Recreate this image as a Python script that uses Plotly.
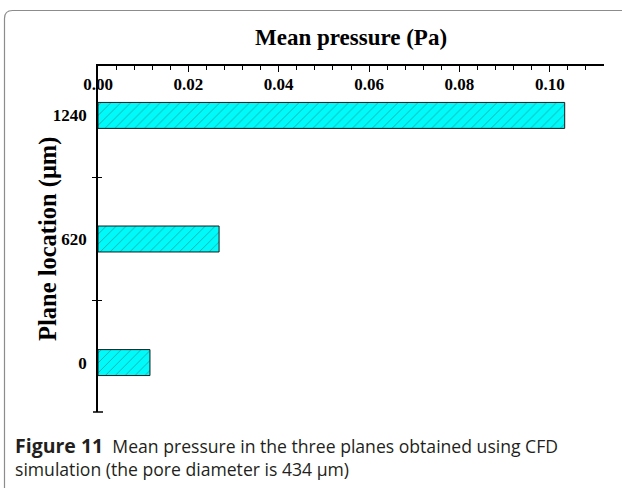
import plotly.graph_objects as go

# Mean pressure at each plane location
locations = ["0", "620", "1240"]
mean_pressure = [0.0115, 0.0268, 0.1033]

x_ticks = [0.00, 0.02, 0.04, 0.06, 0.08, 0.10]
x_tick_labels = ["0.00", "0.02", "0.04", "0.06", "0.08", "0.10"]

W, H = 622, 488
ML, MR, MT, MB = 98, 18, 66, 76
PW, PH = W - ML - MR, H - MT - MB

def px(x):
    return (x - ML) / PW

def py(y):
    return (H - MB - y) / PH

serif = "Liberation Serif"
X_RANGE = [0, 0.112]
Y_RANGE = [-0.4, 2.4]
tick_font = dict(family=serif, size=17, color="black", weight="bold")

fig = go.Figure()
fig.add_trace(go.Bar(
    x=mean_pressure,
    y=list(range(len(locations))),
    orientation="h",
    width=0.21,
    marker=dict(
        color="#00FAFA",
        line=dict(color="#1a1a1a", width=1),
        pattern=dict(shape="/", fgcolor="#2b5b5b", bgcolor="#00FAFA",
                     size=7, solidity=0.13),
    ),
    showlegend=False,
))
# empty traces carrying the helper axes (tick labels below the top line,
# crossing ticks on the vertical axis)
fig.add_trace(go.Scatter(x=[None], y=[None], xaxis="x2", showlegend=False))
fig.add_trace(go.Scatter(x=[None], y=[None], yaxis="y2", showlegend=False))

fig.update_layout(
    width=W, height=H,
    margin=dict(l=ML, r=MR, t=MT, b=MB),
    paper_bgcolor="white", plot_bgcolor="white",
    xaxis=dict(
        side="top", range=X_RANGE,
        tickvals=x_ticks, showticklabels=False,
        ticks="inside", ticklen=6, tickwidth=1.3, tickcolor="black",
        minor=dict(dtick=0.004, tick0=0, ticks="inside", ticklen=4,
                   tickwidth=1.2, tickcolor="black", showgrid=False),
        showline=True, linecolor="black", linewidth=1.5,
        showgrid=False, zeroline=False,
    ),
    xaxis2=dict(
        overlaying="x", side="top", anchor="free", position=py(93),
        range=X_RANGE, tickvals=x_ticks, ticktext=x_tick_labels,
        ticks="", showline=False, showgrid=False, zeroline=False,
        tickfont=tick_font,
    ),
    yaxis=dict(
        range=Y_RANGE,
        tickvals=[0, 1, 2], ticktext=locations,
        ticks="outside", ticklen=0,
        minor=dict(tick0=0.5, dtick=1, ticks="outside", ticklen=4,
                   tickwidth=1.3, tickcolor="black", showgrid=False),
        showline=True, linecolor="black", linewidth=1.5,
        showgrid=False, zeroline=False,
        tickfont=tick_font,
        ticklabelstandoff=6,
    ),
    yaxis2=dict(
        overlaying="y", anchor="x", range=Y_RANGE, showticklabels=False,
        showline=False, showgrid=False, zeroline=False,
        tick0=0.5, dtick=1, ticks="inside", ticklen=4,
        tickwidth=1.3, tickcolor="black",
    ),
    font=dict(family=serif, color="black"),
)

# axis titles
fig.add_annotation(
    text="<b>Mean pressure (Pa)</b>", xref="paper", yref="paper",
    x=0.5, y=py(37), xanchor="center", yanchor="middle", showarrow=False,
    font=dict(family=serif, size=23, color="black"),
)
fig.add_annotation(
    text="<b>Plane location (μm)</b>", xref="paper", yref="paper",
    x=px(48), y=0.5, xanchor="center", yanchor="middle", showarrow=False,
    textangle=-90, font=dict(family=serif, size=24.5, color="black"),
)

# end cap at the bottom of the vertical axis
fig.add_shape(type="line", xref="paper", yref="paper",
              x0=px(93), x1=px(103), y0=0, y1=0,
              line=dict(color="black", width=1.5))

# rounded frame around the figure
r = 8
frame_path = (f"M {px(4.5)},{py(H + 2)} L {px(4.5)},{py(10.5 + r)} "
              f"Q {px(4.5)},{py(10.5)} {px(4.5 + r)},{py(10.5)} "
              f"L {px(W + 2)},{py(10.5)}")
fig.add_shape(type="path", path=frame_path, xref="paper", yref="paper",
              line=dict(color="#8c8c8c", width=1.2))

# caption
fig.add_annotation(
    text="<b><span style='font-size:19.5px'>Figure 11</span></b>  "
         "Mean pressure in the three planes obtained using CFD<br>"
         "simulation (the pore diameter is 434 μm)",
    xref="paper", yref="paper", x=px(13), y=py(430),
    xanchor="left", yanchor="top", align="left", showarrow=False,
    font=dict(family="Open Sans", size=17.6, color="#231f20"),
)

fig.write_html("out.html")
